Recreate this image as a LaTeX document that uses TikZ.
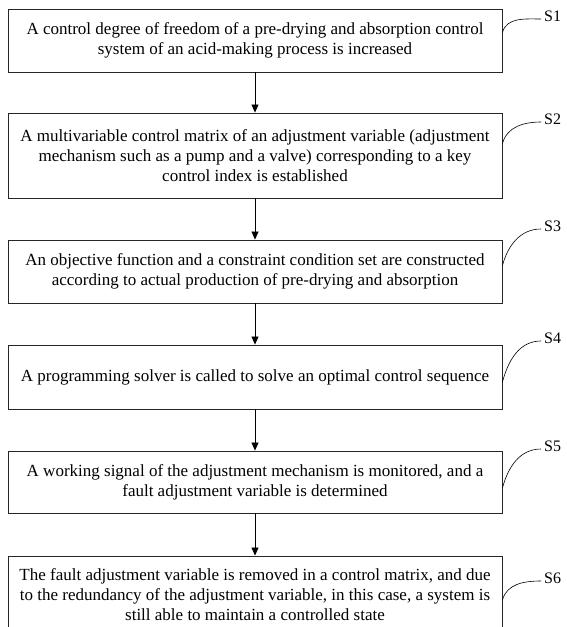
\documentclass[tikz,border=0pt]{standalone}
\usepackage{fontspec}
\setmainfont{Liberation Serif}
\usetikzlibrary{arrows.meta}
\begin{document}
\begin{tikzpicture}[x=1pt,y=-1pt,
  stepbox/.style={draw=black!85, line width=0.9pt, minimum width=494pt,
    align=center, inner sep=0pt, font=\fontsize{17}{20}\selectfont},
  flow/.style={-{Triangle[length=8pt,width=7pt]}, line width=0.8pt},
  tag/.style={font=\fontsize{16}{18}\selectfont, anchor=west, inner sep=0pt},
  lead/.style={line width=0.6pt}]
\useasboundingbox (0,0) rectangle (567,627);

% process steps
\node[stepbox, minimum height=63pt] (b1) at (255,40.5)
  {A control degree of freedom of a pre-drying and absorption control\\
   system of an acid-making process is increased};
\node[stepbox, minimum height=85pt] (b2) at (255,155.5)
  {A multivariable control matrix of an adjustment variable (adjustment\\
   mechanism such as a pump and a valve) corresponding to a key\\
   control index is established};
\node[stepbox, minimum height=63pt] (b3) at (255,271.5)
  {An objective function and a constraint condition set are constructed\\
   according to actual production of pre-drying and absorption};
\node[stepbox, minimum height=64pt] (b4) at (255,377)
  {A programming solver is called to solve an optimal control sequence};
\node[stepbox, minimum height=62pt] (b5) at (255,482)
  {A working signal of the adjustment mechanism is monitored, and a\\
   fault adjustment variable is determined};
\node[stepbox, minimum height=78pt] (b6) at (255,595)
  {The fault adjustment variable is removed in a control matrix, and due\\
   to the redundancy of the adjustment variable, in this case, a system is\\
   still able to maintain a controlled state};

% flow arrows
\draw[flow] (b1) -- (b2);
\draw[flow] (b2) -- (b3);
\draw[flow] (b3) -- (b4);
\draw[flow] (b4) -- (b5);
\draw[flow] (b5) -- (b6);

% step tags
\node[tag] (s1) at (544,16) {S1};
\node[tag] (s2) at (544,119) {S2};
\node[tag] (s3) at (544,226) {S3};
\node[tag] (s4) at (544,338) {S4};
\node[tag] (s5) at (544,446) {S5};
\node[tag] (s6) at (544,578) {S6};

% leader curves
\draw[lead] ([yshift=8pt]b1.east) to[out=75,in=180] ([yshift=-3pt,xshift=-3pt]s1.west);
\draw[lead] ([yshift=12pt]b2.east) to[out=75,in=180] ([yshift=-3pt,xshift=-3pt]s2.west);
\draw[lead] ([yshift=6pt]b3.east) to[out=75,in=180] ([yshift=-3pt,xshift=-3pt]s3.west);
\draw[lead] ([yshift=-5pt]b4.east) to[out=75,in=180] ([yshift=-3pt,xshift=-3pt]s4.west);
\draw[lead] ([yshift=-6pt]b5.east) to[out=75,in=180] ([yshift=-3pt,xshift=-3pt]s5.west);
\draw[lead] ([yshift=-5pt]b6.east) to[out=75,in=180] ([yshift=-3pt,xshift=-3pt]s6.west);
\end{tikzpicture}
\end{document}
